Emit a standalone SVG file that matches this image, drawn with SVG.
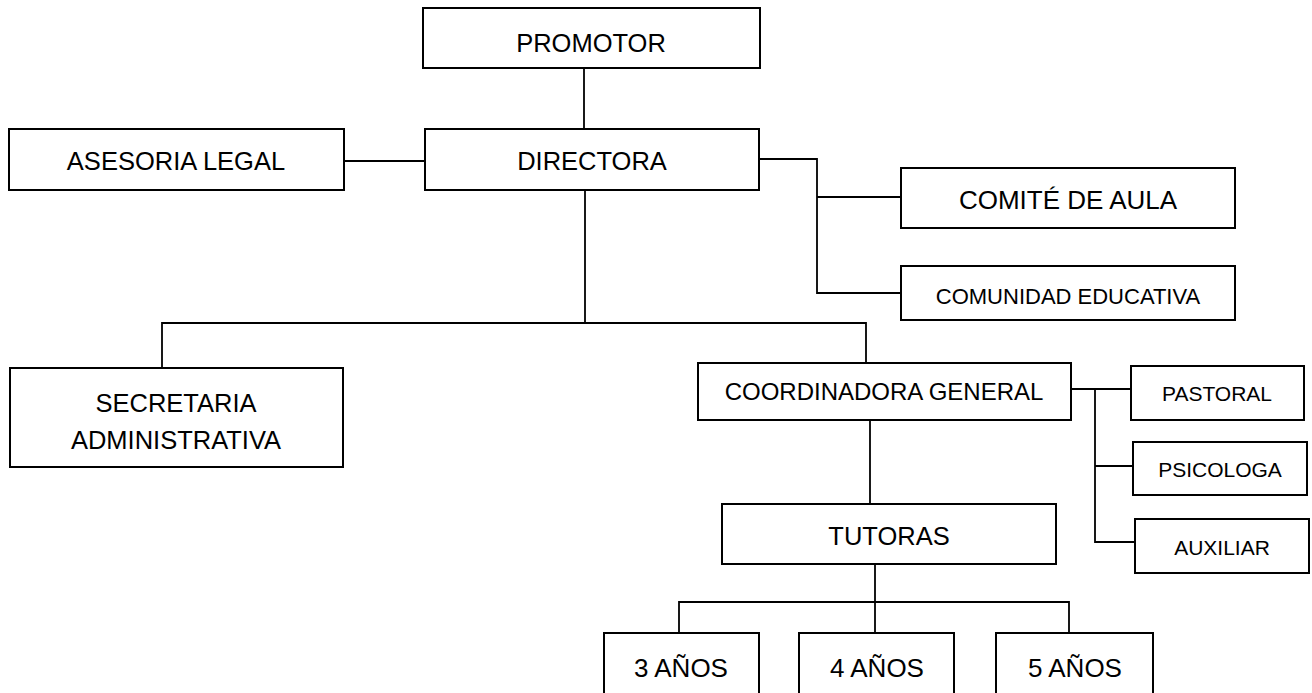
<svg xmlns="http://www.w3.org/2000/svg" width="1312" height="693" viewBox="0 0 1312 693">
<style>
rect{fill:#fff;stroke:#000;stroke-width:2}
.c line,.c polyline{stroke:#000;stroke-width:1.8;fill:none}
text{font-family:"Liberation Sans",Arial,sans-serif;fill:#000;text-anchor:middle}
.l{font-size:25.5px}
.s{font-size:21px}
</style>
<rect width="1312" height="693" style="stroke:none"/>
<g class="c" id="connectors">
<line x1="584" y1="68" x2="584" y2="129"/>
<line x1="344" y1="161" x2="425" y2="161"/>
<polyline points="759,159 817,159 817,293 901,293"/>
<line x1="817" y1="197" x2="901" y2="197"/>
<line x1="585" y1="190" x2="585" y2="323"/>
<polyline points="162,368 162,323 866,323 866,363"/>
<polyline points="1071,389 1131,389"/>
<polyline points="1095,389 1095,542 1135,542"/>
<line x1="1095" y1="466" x2="1133" y2="466"/>
<line x1="870" y1="420" x2="870" y2="504"/>
<line x1="875" y1="564" x2="875" y2="633"/>
<polyline points="679,633 679,602 1069,602 1069,633"/>
</g>
<g id="promotor"><rect x="423" y="8" width="337" height="60"/><text class="l" x="591" y="52">PROMOTOR</text></g>
<g id="asesoria"><rect x="9" y="129" width="335" height="61"/><text class="l" x="176" y="170">ASESORIA LEGAL</text></g>
<g id="directora"><rect x="425" y="129" width="334" height="61"/><text class="l" x="592" y="170">DIRECTORA</text></g>
<g id="comite"><rect x="901" y="168" width="334" height="60"/><text x="1068" y="209" style="font-size:26px">COMITÉ DE AULA</text></g>
<g id="comunidad"><rect x="901" y="266" width="334" height="54"/><text x="1068" y="304" style="font-size:22px">COMUNIDAD EDUCATIVA</text></g>
<g id="secretaria"><rect x="10" y="368" width="333" height="99"/><text class="l" x="176" y="412">SECRETARIA</text><text class="l" x="176" y="449">ADMINISTRATIVA</text></g>
<g id="coordinadora"><rect x="698" y="363" width="373" height="57"/><text x="884" y="400" style="font-size:24px">COORDINADORA GENERAL</text></g>
<g id="pastoral"><rect x="1131" y="366" width="173" height="54"/><text class="s" x="1217" y="401">PASTORAL</text></g>
<g id="psicologa"><rect x="1133" y="442" width="174" height="53"/><text class="s" x="1220" y="477">PSICOLOGA</text></g>
<g id="auxiliar"><rect x="1135" y="519" width="174" height="54"/><text class="s" x="1222" y="555">AUXILIAR</text></g>
<g id="tutoras"><rect x="722" y="504" width="334" height="60"/><text class="l" x="889" y="545">TUTORAS</text></g>
<g id="tres"><rect x="604" y="633" width="155" height="80"/><text x="681" y="677" style="font-size:26px">3 AÑOS</text></g>
<g id="cuatro"><rect x="799" y="633" width="155" height="80"/><text x="877" y="677" style="font-size:26px">4 AÑOS</text></g>
<g id="cinco"><rect x="996" y="633" width="157" height="80"/><text x="1075" y="677" style="font-size:26px">5 AÑOS</text></g>
</svg>
